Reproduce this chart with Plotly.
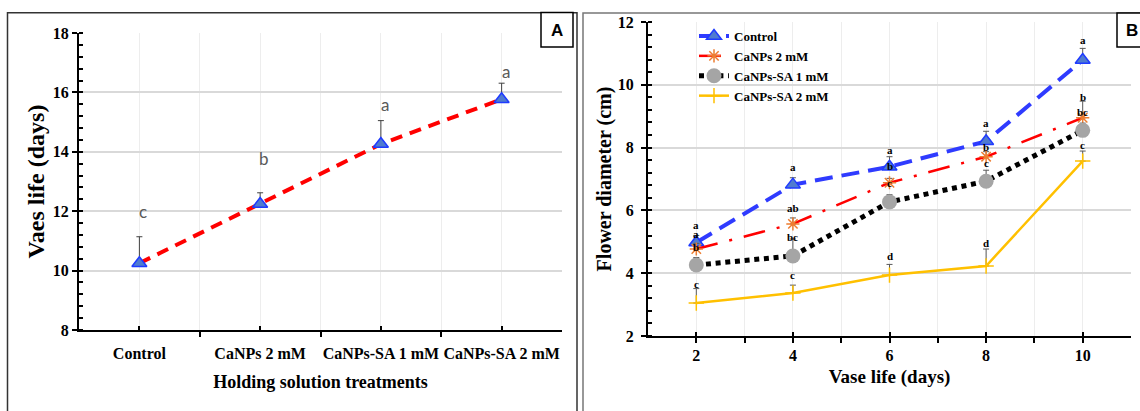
import plotly.graph_objects as go

W, H = 1140, 411

# ---------- Panel A data ----------
treatments = ["Control", "CaNPs 2 mM", "CaNPs-SA 1 mM", "CaNPs-SA 2 mM"]
vase_life = [10.25, 12.24, 14.26, 15.77]
vase_life_err_top = [11.14, 12.62, 15.05, 16.31]
vase_life_letters = ["c", "b", "a", "a"]
vase_life_letter_y = [11.98, 13.76, 15.58, 16.70]

# ---------- Panel B data ----------
days = [2, 4, 6, 8, 10]
series_names = ["Control", "CaNPs 2 mM", "CaNPs-SA 1 mM", "CaNPs-SA 2 mM"]
control = [4.98, 6.82, 7.39, 8.20, 10.79]
canps_2 = [4.77, 5.57, 6.88, 7.71, 8.95]
canps_sa_1 = [4.26, 4.55, 6.27, 6.93, 8.55]
canps_sa_2 = [3.05, 3.37, 3.94, 4.23, 7.57]
control_err_top = [5.20, 7.04, 7.71, 8.52, 11.16]
canps_2_err_top = [4.95, 5.76, 7.02, 7.87, 9.48]
canps_sa_1_err_top = [4.50, 5.09, 6.50, 7.28, 8.78]
canps_sa_2_err_top = [3.51, 3.62, 4.28, 4.77, 7.89]
control_letters = ["a", "a", "a", "a", "a"]
canps_2_letters = ["a", "ab", "b", "b", "b"]
canps_sa_1_letters = ["b", "bc", "c", "c", "bc"]
canps_sa_2_letters = ["c", "c", "d", "d", "c"]
control_letter_y = [5.52, 7.39, 7.93, 8.78, 11.43]
canps_2_letter_y = [5.25, 6.08, 7.42, 8.03, 9.61]
canps_sa_1_letter_y = [4.85, 5.14, 6.88, 7.50, 9.13]
canps_sa_2_letter_y = [3.66, 3.93, 4.55, 4.96, 8.07]

SERIF = "Liberation Serif, Times New Roman, serif"
SANS = "Liberation Sans, Arial, sans-serif"


def px_x(p):
    return p / W


def px_y(p):
    return 1 - p / H


fig = go.Figure()

# ---------- Panel A trace ----------
fig.add_trace(go.Scatter(
    x=list(range(len(treatments))), y=vase_life,
    mode="lines+markers", xaxis="x", yaxis="y", showlegend=False,
    line=dict(color="#FF0000", width=4, dash="12px,8px"),
    marker=dict(symbol="triangle-up", size=13, color="#4F7BD0",
                line=dict(color="#1F3BFF", width=1.5)),
    error_y=dict(type="data", symmetric=False,
                 array=[t - v for t, v in zip(vase_life_err_top, vase_life)],
                 arrayminus=[0] * len(vase_life),
                 color="#404040", thickness=1, width=3),
))

# ---------- Panel B traces ----------
b_series = [
    (series_names[0], control, control_err_top,
     dict(color="#2F3BFF", width=4, dash="18px,9px"),
     dict(symbol="triangle-up", size=13, color="#4F7BD0", line=dict(color="#1F3BFF", width=1.5))),
    (series_names[1], canps_2, canps_2_err_top,
     dict(color="#FF0000", width=2.5, dash="22px,12px,3px,12px"),
     dict(symbol="asterisk-open", size=11, color="#ED7D31", line=dict(color="#ED7D31", width=1.5))),
    (series_names[2], canps_sa_1, canps_sa_1_err_top,
     dict(color="#000000", width=5, dash="5px,4.7px"),
     dict(symbol="circle", size=15, color="#A5A5A5", line=dict(width=0))),
    (series_names[3], canps_sa_2, canps_sa_2_err_top,
     dict(color="#FFC000", width=2.5, dash="solid"),
     dict(symbol="cross-thin-open", size=11, color="#FFC000", line=dict(color="#FFC000", width=1.5))),
]
for name, vals, errs, line, marker in b_series:
    fig.add_trace(go.Scatter(
        x=days, y=vals, name=name, mode="lines+markers",
        xaxis="x2", yaxis="y2", line=line, marker=marker,
        error_y=dict(type="data", symmetric=False,
                     array=[t - v for t, v in zip(errs, vals)],
                     arrayminus=[0] * len(vals),
                     color="#595959", thickness=1, width=3),
    ))

annotations = []
for i, (lt, ly) in enumerate(zip(vase_life_letters, vase_life_letter_y)):
    annotations.append(dict(x=i, y=ly, xref="x", yref="y", text=lt, showarrow=False,
                            xanchor="center", yanchor="middle", xshift=4,
                            font=dict(family="Lato, Open Sans, sans-serif",
                                      size=17, color="#595959")))
for letters, ys in [(control_letters, control_letter_y), (canps_2_letters, canps_2_letter_y),
                    (canps_sa_1_letters, canps_sa_1_letter_y),
                    (canps_sa_2_letters, canps_sa_2_letter_y)]:
    for d, lt, ly in zip(days, letters, ys):
        annotations.append(dict(x=d, y=ly, xref="x2", yref="y2", text=lt, showarrow=False,
                                xanchor="center", yanchor="middle",
                                font=dict(family=SERIF, size=11, color="#000000", weight="bold")))

# panel letters
annotations.append(dict(x=px_x(557), y=px_y(30), xref="paper", yref="paper", text="A",
                        xanchor="center", yanchor="middle", showarrow=False,
                        font=dict(family=SANS, size=17, color="#000", weight="bold")))
annotations.append(dict(x=px_x(1132), y=px_y(30), xref="paper", yref="paper", text="B",
                        xanchor="center", yanchor="middle", showarrow=False,
                        font=dict(family=SANS, size=17, color="#000", weight="bold")))

shapes = [
    dict(type="rect", xref="paper", yref="paper", x0=px_x(7.5), x1=px_x(577), y0=-0.05, y1=px_y(12.7),
         line=dict(color="#333333", width=1.5), layer="below"),
    dict(type="rect", xref="paper", yref="paper", x0=px_x(583), x1=1.05, y0=-0.05, y1=px_y(13),
         line=dict(color="#777777", width=1.5), layer="below"),
    dict(type="rect", xref="paper", yref="paper", x0=px_x(541), x1=px_x(573), y0=px_y(47), y1=px_y(12.5),
         line=dict(color="#000000", width=1.5), fillcolor="white"),
    dict(type="rect", xref="paper", yref="paper", x0=px_x(1117), x1=1.05, y0=px_y(47), y1=px_y(13),
         line=dict(color="#000000", width=1.5), fillcolor="white"),
]

tickfont = dict(family=SERIF, size=16, color="#000000", weight="bold")
HGRID = "#d9d9d9"
VGRID = "#ededed"

fig.update_layout(
    width=W, height=H,
    margin=dict(l=0, r=0, t=0, b=0),
    paper_bgcolor="white", plot_bgcolor="white",
    annotations=annotations, shapes=shapes,
    legend=dict(x=px_x(694), y=px_y(21), xanchor="left", yanchor="top",
                bgcolor="rgba(0,0,0,0)", tracegroupgap=0,
                font=dict(family=SERIF, size=13, color="#000000", weight="bold")),
    xaxis=dict(domain=[px_x(79), px_x(562)], anchor="y", range=[-0.5, 3.5],
               tickmode="array", tickvals=list(range(len(treatments))), ticktext=treatments,
               ticks="inside", ticklen=4, tickwidth=1.5, tickcolor="#000",
               showline=True, linecolor="#000", linewidth=2, mirror=False,
               showgrid=True, gridcolor=VGRID, gridwidth=1, zeroline=False,
               tickfont=tickfont, ticklabelstandoff=8, automargin=False,
               minor=dict(tickmode="array", tickvals=[-0.5, 0.5, 1.5, 2.5, 3.5],
                          ticks="outside", ticklen=5, tickwidth=1.5, tickcolor="#000",
                          showgrid=True, gridcolor=VGRID, gridwidth=1),
               title=dict(text="Holding solution treatments", standoff=14,
                          font=dict(family=SERIF, size=18, color="#000", weight="bold"))),
    yaxis=dict(domain=[px_y(330), px_y(33)], anchor="x", range=[8, 18], dtick=2, tick0=8,
               ticks="outside", ticklen=5, tickwidth=1.5, tickcolor="#000",
               showline=True, linecolor="#000", linewidth=2,
               showgrid=True, gridcolor=HGRID, gridwidth=1.5, zeroline=False,
               tickfont=tickfont, automargin=False,
               minor=dict(dtick=0.4, tick0=8, ticks="inside", ticklen=4, tickwidth=1.5,
                          tickcolor="#000", showgrid=False),
               title=dict(text="Vaes life (days)", standoff=1,
                          font=dict(family=SERIF, size=24, color="#000", weight="bold"))),
    xaxis2=dict(domain=[px_x(648), px_x(1131)], anchor="y2", range=[1, 11],
                tickmode="array", tickvals=days, ticktext=[str(d) for d in days],
                ticks="inside", ticklen=4, tickwidth=1.5, tickcolor="#000",
                showline=True, linecolor="#000", linewidth=2,
                showgrid=True, gridcolor=VGRID, gridwidth=1, zeroline=False,
                tickfont=tickfont, ticklabelstandoff=4, automargin=False,
                minor=dict(dtick=1, tick0=1, ticks="outside", ticklen=5, tickwidth=1.5,
                           tickcolor="#000", showgrid=True, gridcolor=VGRID, gridwidth=1),
                title=dict(text="Vase life (days)", standoff=6,
                           font=dict(family=SERIF, size=19, color="#000", weight="bold"))),
    yaxis2=dict(domain=[px_y(336), px_y(22)], anchor="x2", range=[2, 12], dtick=2, tick0=2,
                ticks="outside", ticklen=5, tickwidth=1.5, tickcolor="#000",
                showline=True, linecolor="#000", linewidth=2,
                showgrid=True, gridcolor=HGRID, gridwidth=1.5, zeroline=False,
                tickfont=tickfont, automargin=False, ticklabelstandoff=4,
                minor=dict(dtick=0.4, tick0=2, ticks="inside", ticklen=4, tickwidth=1.5,
                           tickcolor="#000", showgrid=False),
                title=dict(text="Flower diameter (cm)", standoff=1,
                           font=dict(family=SERIF, size=20, color="#000", weight="bold"))),
)

fig.write_html("out.html")
